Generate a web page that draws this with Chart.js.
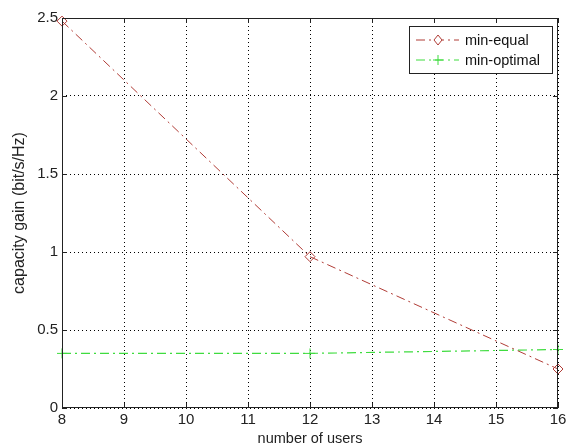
<!DOCTYPE html>
<html>
<head>
<meta charset="utf-8">
<script src="https://cdn.jsdelivr.net/npm/chart.js@4.4.0/dist/chart.umd.min.js"></script>
<style>
  html, body { margin: 0; padding: 0; background: #fff; }
  #wrap { width: 570px; height: 448px; }
</style>
</head>
<body>
<div id="wrap"><canvas id="grafico" width="570" height="448"></canvas></div>
<script>
// dados
const usuarios = [8, 12, 16];
const minEqual = [2.48, 0.97, 0.25];
const minOptimal = [0.35, 0.35, 0.375];
const xTicks = [8, 9, 10, 11, 12, 13, 14, 15, 16];
const yTicks = [0, 0.5, 1, 1.5, 2, 2.5];

const corVermelho = "#b03c36";
const corVerde = "#3fdc3f";
const tracoPonto = [9, 4, 2, 4];
const fonte = "'Liberation Sans', Arial, sans-serif";

function pares(xs, ys) {
  return xs.map((x, i) => ({ x: x, y: ys[i] }));
}

// moldura, ticks para dentro e legenda estilo MATLAB
const molduraPlugin = {
  id: "moldura",
  afterDraw(chart) {
    const ctx = chart.ctx;
    const a = chart.chartArea;
    const sx = chart.scales.x, sy = chart.scales.y;
    ctx.save();
    ctx.strokeStyle = "#222";
    ctx.lineWidth = 1;
    ctx.setLineDash([]);
    ctx.strokeRect(a.left + 0.5, a.top + 0.5, a.right - a.left - 1, a.bottom - a.top - 1);
    ctx.beginPath();
    xTicks.forEach(v => {
      const px = Math.round(sx.getPixelForValue(v)) + 0.5;
      ctx.moveTo(px, a.bottom); ctx.lineTo(px, a.bottom - 5);
      ctx.moveTo(px, a.top); ctx.lineTo(px, a.top + 5);
    });
    yTicks.forEach(v => {
      const py = Math.round(sy.getPixelForValue(v)) + 0.5;
      ctx.moveTo(a.left, py); ctx.lineTo(a.left + 5, py);
      ctx.moveTo(a.right, py); ctx.lineTo(a.right - 5, py);
    });
    ctx.stroke();

    // legenda
    const bx = 409, by = 26, bw = 143, bh = 47;
    ctx.fillStyle = "#fff";
    ctx.fillRect(bx, by, bw, bh);
    ctx.strokeStyle = "#222";
    ctx.strokeRect(bx + 0.5, by + 0.5, bw, bh);
    const itens = [
      { nome: "min-equal", cor: corVermelho, marca: "diamante" },
      { nome: "min-optimal", cor: corVerde, marca: "cruz" }
    ];
    ctx.font = "14.5px " + fonte;
    ctx.textBaseline = "middle";
    itens.forEach((it, i) => {
      const y = by + 14 + i * 20;
      ctx.strokeStyle = it.cor;
      ctx.lineWidth = 1;
      ctx.setLineDash([9, 4, 2, 4]);
      ctx.beginPath();
      ctx.moveTo(bx + 7, y); ctx.lineTo(bx + 50, y);
      ctx.stroke();
      ctx.setLineDash([]);
      const cx = bx + 29;
      ctx.beginPath();
      if (it.marca === "diamante") {
        ctx.moveTo(cx, y - 5); ctx.lineTo(cx + 4, y); ctx.lineTo(cx, y + 5); ctx.lineTo(cx - 4, y); ctx.closePath();
        ctx.fillStyle = "#fff"; ctx.fill();
      } else {
        ctx.moveTo(cx - 5, y); ctx.lineTo(cx + 5, y);
        ctx.moveTo(cx, y - 5); ctx.lineTo(cx, y + 5);
      }
      ctx.stroke();
      ctx.fillStyle = "#111";
      ctx.fillText(it.nome, bx + 56, y + 1);
    });
    ctx.restore();
  }
};

new Chart(document.getElementById("grafico"), {
  type: "scatter",
  data: {
    datasets: [
      {
        label: "min-equal",
        data: pares(usuarios, minEqual),
        showLine: true,
        borderColor: corVermelho,
        borderWidth: 1,
        borderDash: tracoPonto,
        pointStyle: "rectRot",
        pointRadius: 5,
        pointBackgroundColor: "rgba(255,255,255,0)",
        pointBorderColor: corVermelho,
        pointBorderWidth: 1,
        clip: 8
      },
      {
        label: "min-optimal",
        data: pares(usuarios, minOptimal),
        showLine: true,
        borderColor: corVerde,
        borderWidth: 1.2,
        borderDash: tracoPonto,
        pointStyle: "cross",
        pointRadius: 5,
        pointBorderColor: corVerde,
        pointBorderWidth: 1,
        clip: 8
      }
    ]
  },
  options: {
    responsive: false,
    animation: false,
    layout: { padding: { top: 18, right: 12, left: 0, bottom: 0 } },
    plugins: { legend: { display: false }, tooltip: { enabled: false } },
    scales: {
      x: {
        type: "linear",
        min: 8, max: 16,
        afterBuildTicks: s => { s.ticks = xTicks.map(v => ({ value: v })); },
        afterFit: s => { s.height = 40; },
        grid: { color: "#000", lineWidth: 1, drawTicks: false },
        border: { display: false, dash: [1, 3] },
        ticks: { color: "#222", font: { family: fonte, size: 15 }, padding: 3, maxRotation: 0 },
        title: { display: true, text: "number of users", color: "#222", font: { family: fonte, size: 14.5 }, padding: { top: 0, bottom: 0 } }
      },
      y: {
        min: 0, max: 2.5,
        afterBuildTicks: s => { s.ticks = yTicks.map(v => ({ value: v })); },
        afterFit: s => { s.width = 62; },
        grid: { color: "#000", lineWidth: 1, drawTicks: false },
        border: { display: false, dash: [1, 3] },
        ticks: { color: "#222", font: { family: fonte, size: 15 }, padding: 4, callback: v => String(v) },
        title: { display: true, text: "capacity gain (bit/s/Hz)", color: "#222", font: { family: fonte, size: 16 }, padding: { top: 10, bottom: 0 } }
      }
    }
  },
  plugins: [molduraPlugin]
});
</script>
</body>
</html>
